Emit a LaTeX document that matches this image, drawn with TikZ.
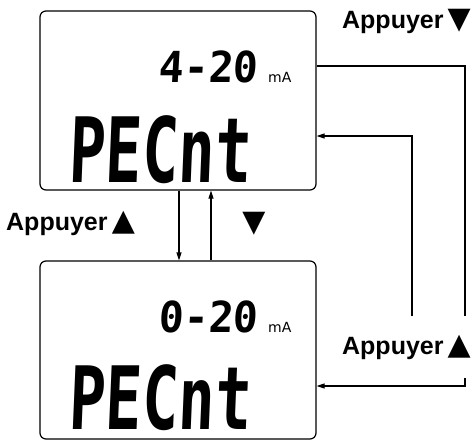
\documentclass[tikz,border=0pt]{standalone}
\usepackage{fontspec}
\usepackage{graphicx}
\usepackage{tikz}
\usetikzlibrary{arrows.meta, positioning}
\newfontfamily\labelfont{Liberation Sans}
\newfontfamily\markfont{DejaVu Sans}
\newfontfamily\lcdfont[FakeSlant=0.06]{DejaVu Sans Mono}
\newfontfamily\unitfont{DejaVu Sans}
\newcommand\upmark{{\markfont\fontsize{30}{30}\selectfont ▲}}
\newcommand\downmark{{\markfont\fontsize{30}{30}\selectfont ▼}}

\begin{document}
\begin{tikzpicture}[x=1pt, y=-1pt,
    lcd/.style={draw, line width=1.2pt, rounded corners=6pt, minimum width=276pt, inner sep=0pt},
    link/.style={line width=1.2pt},
    flow/.style={line width=1.2pt, -{Triangle[length=8pt, width=5pt]}},
    press/.style={font=\labelfont\bfseries\fontsize{25}{25}\selectfont, inner sep=0pt},
    digits/.style={font=\lcdfont\bfseries\fontsize{45}{45}\selectfont, inner sep=0pt, anchor=base west},
    word/.style={font=\lcdfont\bfseries\fontsize{92}{92}\selectfont, inner sep=0pt, anchor=base west},
    unit/.style={font=\unitfont\fontsize{14}{14}\selectfont, inner sep=0pt, anchor=base west}]
    \useasboundingbox (0,0) rectangle (472,440);
    \node[lcd, minimum height=179pt] (lcdtop) at (178,100.5) {};
    \node[lcd, minimum height=178pt] (lcdbot) at (178,350) {};
    \node[digits] (rangetop) at (158,82) {\scalebox{0.92}[0.95]{4-20}};
    \node[unit] (unittop) at (268,82) {mA};
    \node[word] (wordtop) at (68,182) {\scalebox{0.66}[0.98]{PECnt}};
    \node[digits] (rangebot) at (158,332) {\scalebox{0.92}[0.95]{0-20}};
    \node[unit] (unitbot) at (268,332) {mA};
    \node[word] (wordbot) at (68,429) {\scalebox{0.66}[0.95]{PECnt}};
    \node[press, anchor=base east] (pressdown) at (471,28) {Appuyer\,\downmark};
    \node[press, anchor=base west] (pressupleft) at (6,230) {Appuyer\,\upmark};
    \node[press, anchor=base] (downonly) at (254,231) {\downmark};
    \node[press, anchor=base east] (pressupright) at (471,354) {Appuyer\,\upmark};
    \coordinate (outtop) at (465,66);
    \coordinate (outgap) at (465,316);
    \coordinate (outback) at (465,378);
    \coordinate (inbot) at (316,386);
    \coordinate (upstart) at (412,316);
    \coordinate (intop) at (316,136);
    \draw[link] (lcdtop.east |- outtop) -- (outtop) -- (outgap);
    \draw[flow] (outback) |- (lcdbot.east |- inbot);
    \draw[flow] (upstart) |- (lcdtop.east |- intop);
    \draw[flow] (lcdtop.south -| 179,0) -- (lcdbot.north -| 179,0);
    \draw[flow] (lcdbot.north -| 211,0) -- (lcdtop.south -| 211,0);
\end{tikzpicture}
\end{document}
